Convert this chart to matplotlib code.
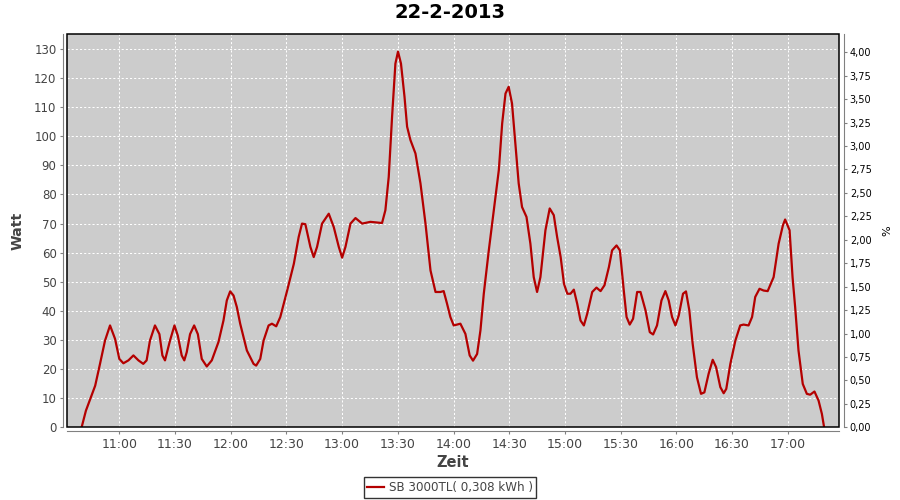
import numpy as np
import pandas as pd
import matplotlib
matplotlib.use("Agg")
import matplotlib.pyplot as plt
import matplotlib.dates as mdates
from matplotlib.patches import Rectangle
from matplotlib.ticker import FuncFormatter, MultipleLocator

# minutes after 11:00 and power in W
minutes = [-20.3, -18, -13, -10.4, -7.7, -5, -2.3, 0, 2.2, 4.9, 7.6, 10.3, 12.9, 14.7,
           16.5, 19.2, 21.6, 23.2, 24.6, 27.3, 29.7, 31.5, 33.6, 35, 36.3, 38.1, 40.3,
           42.3, 44.4, 47.1, 49.8, 53.4, 56.1, 57.9, 59.7, 61.5, 63.3, 65.1, 68.7, 72.3,
           73.7, 75.9, 77.7, 80.4, 82.2, 84.5, 86.7, 90.4, 94, 96.6, 98.4, 100.2, 102.9,
           104.7, 106.5, 109.2, 112.8, 115.5, 118.2, 120, 121.8, 124.5, 127.2, 130.8,
           135.2, 141.5, 143.3, 145.1, 146.9, 148.7, 150.1, 151.7, 153.6, 155, 156.8,
           159.5, 162.2, 164.9, 167.6, 170.3, 172.9, 174.7, 176.5, 178.3, 180.1, 183.7,
           186.4, 188.7, 190.5, 192.7, 194.5, 196.3, 199, 201.7, 204.4, 206.2, 208,
           209.7, 211.5, 213.3, 215.1, 216.9, 219.3, 221.4, 223.2, 225, 226.8, 229.5,
           231.8, 234, 235.8, 237.7, 239.5, 241.3, 243, 244.8, 246.6, 248.4, 250.2, 252,
           254.7, 257, 259.2, 261.3, 263.7, 265.4, 267.8, 269.6, 271.7, 273.2, 274.9,
           276.7, 278.9, 280.7, 283.4, 285.7, 287.5, 289.6, 292, 294.1, 295.9, 297.7,
           299.5, 301.3, 303.6, 305.2, 307, 308.8, 311.1, 313.3, 315.1, 317.4, 319.6,
           321.4, 323.7, 325.5, 326.9, 329.1, 331.8, 334.4, 336.2, 338.9, 340.8, 342.5,
           344.8, 347, 349.2, 352.4, 355.1, 357.4, 358.6, 361, 362.6, 364, 365.8, 368.1,
           370.3, 372.1, 374.4, 376.6, 378.4, 379.6]
watt = [0, 5.7, 14.3, 21.8, 29.8, 35, 30.4, 23.5, 22, 23, 24.7, 23, 21.8, 23,
        29.8, 35, 32, 24.7, 23, 29.8, 35, 31.5, 24.7, 23, 25.8, 32, 35,
        32, 23.5, 20.9, 23, 29.3, 36.7, 43.6, 46.7, 45.3, 41.3, 35.6, 26.4, 21.8,
        21.2, 23.5, 29.8, 35, 35.6, 34.7, 37.9, 47, 56.2, 65.4, 70, 69.8, 62,
        58.5, 62, 70, 73.4, 68.8, 62, 58.3, 62, 70, 71.9, 70,
        70.6, 70.2, 74.6, 86, 106.7, 125, 129.1, 125, 113.6, 103.3, 98.7,
        94.1, 83.8, 70, 53.9, 46.5, 46.5, 46.8, 42.5, 37.9, 35, 35.6,
        32.1, 24.7, 22.9, 25.2, 33.3, 45.9, 60.8, 74.6, 88.4, 104.4, 114.7,
        117, 111.3, 97.5, 83.8, 75.7, 72.3, 63.1, 51.6, 46.5, 51.6, 67.7,
        75.2, 72.9, 65.4, 58.5, 49.3, 45.9, 45.9, 47.3, 42.5, 36.7, 35, 39,
        46.5, 48, 46.8, 48.8, 55.1, 60.8, 62.5, 60.8, 47, 37.9, 35.3,
        37.3, 46.5, 46.5, 40.2, 32.7, 31.9, 35, 43.6, 46.8, 43.6, 37.9,
        35, 38.4, 45.9, 46.7, 40.2, 28.7, 17.2, 11.5, 12, 18.4, 23.2,
        20.7, 13.8, 11.7, 13.2, 21.8, 29.8, 35, 35.3, 35, 37.9, 44.8,
        47.6, 47, 46.8, 51.6, 63.1, 69.4, 71.4, 67.7, 51.6, 41.3, 26.4, 14.9,
        11.5, 11.2, 12.3, 9.2, 4.6, 0]

title = "22-2-2013"
series_label = "SB 3000TL( 0,308 kWh )"

base = pd.Timestamp("2013-02-22 11:00")
times = base + pd.to_timedelta(minutes, unit="min")

fig = plt.figure(figsize=(9, 5), dpi=100)
fig.patch.set_facecolor("white")
ax = fig.add_axes([0.0744, 0.1454, 0.8582, 0.786])
ax.set_facecolor("#cccccc")

line, = ax.plot(times, watt, color="#b40000", linewidth=1.6, zorder=3,
                solid_joinstyle="round")

ax.set_xlim(base - pd.Timedelta(minutes=28.2), base + pd.Timedelta(minutes=387.8))
ax.set_ylim(0, 135.05)
ax.yaxis.set_major_locator(MultipleLocator(10))
ax.xaxis.set_major_locator(mdates.MinuteLocator(byminute=[0, 30]))
ax.xaxis.set_major_formatter(mdates.DateFormatter("%H:%M"))

ax.grid(True, color="white", linestyle=(0, (2, 2)), linewidth=0.75)
ax.set_axisbelow(True)

for s in ["top", "right"]:
    ax.spines[s].set_visible(False)
for s in ["left", "bottom"]:
    ax.spines[s].set_position(("outward", 3))
    ax.spines[s].set_color("#808080")
ax.tick_params(axis="both", colors="#808080", length=2.5, width=0.8,
               labelcolor="#444444")
ax.tick_params(axis="x", labelsize=9, pad=2)
ax.tick_params(axis="y", labelsize=8.5, pad=2)

ax.add_patch(Rectangle((0, 0), 1, 1, transform=ax.transAxes, fill=False,
                       edgecolor="black", linewidth=1.1, clip_on=False, zorder=5))

ax.set_ylabel("Watt", fontsize=10.2, fontweight="bold", color="#444444", labelpad=7)
ax.set_xlabel("Zeit", fontsize=10.5, fontweight="bold", color="#444444", labelpad=3)

ax2 = ax.twinx()
ax2.set_ylim(0, 4.192)
ax2.yaxis.set_major_locator(MultipleLocator(0.25))
ax2.yaxis.set_major_formatter(FuncFormatter(lambda v, p: f"{v:.2f}".replace(".", ",")))
for s in ["top", "left", "bottom"]:
    ax2.spines[s].set_visible(False)
ax2.spines["right"].set_position(("outward", 3))
ax2.spines["right"].set_color("#808080")
ax2.tick_params(axis="y", colors="#808080", length=2.5, width=0.8,
                labelcolor="black", labelsize=7, pad=2)
ax2.set_ylabel("%", fontsize=8, color="black", rotation=90, labelpad=8)

fig.text(0.5, 0.975, title, fontsize=14, fontweight="bold", ha="center", va="center")

leg = fig.legend([line], [series_label], loc="center", bbox_to_anchor=(0.5, 0.025),
                 fontsize=8.6, frameon=True, fancybox=False, edgecolor="black",
                 handlelength=1.4, borderpad=0.3, handletextpad=0.4)
leg.get_frame().set_linewidth(1)
for t in leg.get_texts():
    t.set_color("#444444")

fig.savefig("out.png", dpi=100)
